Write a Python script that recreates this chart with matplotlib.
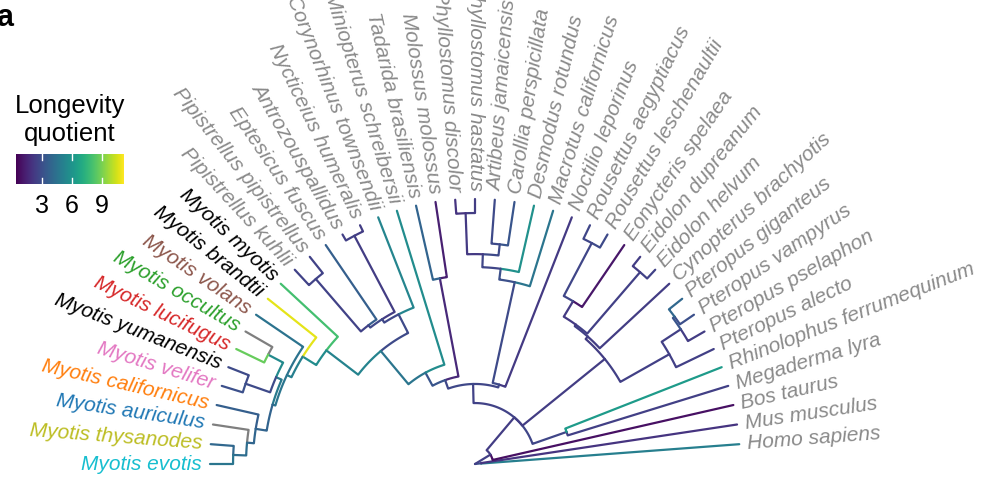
import numpy as np
import matplotlib
matplotlib.use("Agg")
import matplotlib.pyplot as plt
from matplotlib import colors as mcolors

# ---------------- data ----------------
tip_labels = [
    "Homo sapiens", "Mus musculus", "Bos taurus", "Megaderma lyra",
    "Rhinolophus ferrumequinum", "Pteropus alecto", "Pteropus pselaphon",
    "Pteropus vampyrus", "Pteropus giganteus", "Cynopterus brachyotis",
    "Eidolon helvum", "Eidolon dupreanum", "Eonycteris spelaea",
    "Rousettus leschenaultii", "Rousettus aegyptiacus", "Noctilio leporinus",
    "Macrotus californicus", "Desmodus rotundus", "Carollia perspicillata",
    "Artibeus jamaicensis", "Phyllostomus hastatus", "Phyllostomus discolor",
    "Molossus molossus", "Tadarida brasiliensis", "Miniopterus schreibersii",
    "Corynorhinus townsendii", "Nycticeius humeralis", "Antrozouspallidus",
    "Eptesicus fuscus", "Pipistrellus pipistrellus", "Pipistrellus kuhlii",
    "Myotis myotis", "Myotis brandtii", "Myotis volans", "Myotis occultus",
    "Myotis lucifugus", "Myotis yumanensis", "Myotis velifer",
    "Myotis californicus", "Myotis auriculus", "Myotis thysanodes",
    "Myotis evotis",
]
# longevity quotient of each tip (None = not available)
tip_lq = [
    5.0, 2.0, 0.8, 2.4, 6.3, 2.4, 2.3, 3.0, 4.0, 2.3,
    2.5, 2.3, 1.0, 2.8, 2.6, 2.2, 4.6, 5.8, 3.2, 2.8,
    2.3, 2.0, 1.3, 3.8, 5.6, 5.3, 2.3, 2.4, 3.6, 2.5,
    2.5, 8.0, 10.8, 4.5, None, 8.7, 2.8, 3.0, 3.6, None,
    4.0, 4.6,
]
# label colours of highlighted species (others grey)
label_colors = {
    "Myotis myotis": "#000000", "Myotis brandtii": "#000000",
    "Myotis volans": "#8c564b", "Myotis occultus": "#2ca02c",
    "Myotis lucifugus": "#d62728", "Myotis yumanensis": "#000000",
    "Myotis velifer": "#e377c2", "Myotis californicus": "#ff7f0e",
    "Myotis auriculus": "#1f77b4", "Myotis thysanodes": "#bcbd22",
    "Myotis evotis": "#17becf",
}
# internal nodes: name, children, depth from root (% of tree height), reconstructed LQ
node_names = ["Root", "Euarch", "Laurasia", "Chiroptera", "MegRhino", "Q", "R",
              "PVG", "VG", "P1", "P2", "EID", "P3", "ROU", "Yango", "NOC",
              "PHY1", "PHY2", "PHY3", "PHYL", "AC", "VGRP", "MOL", "VM", "VES",
              "O2", "O1", "AN", "PE", "PIP", "MYO", "B", "C", "F", "D", "OL",
              "YV", "E", "AUR", "ET"]
node_children = [
    ["Euarch", "Laurasia"],
    ["Homo sapiens", "Mus musculus"],
    ["Bos taurus", "Chiroptera"],
    ["MegRhino", "Q", "Yango"],
    ["Megaderma lyra", "Rhinolophus ferrumequinum"],
    ["R", "P1"],
    ["Pteropus alecto", "PVG"],
    ["Pteropus pselaphon", "VG"],
    ["Pteropus vampyrus", "Pteropus giganteus"],
    ["Cynopterus brachyotis", "P2"],
    ["EID", "P3"],
    ["Eidolon helvum", "Eidolon dupreanum"],
    ["Eonycteris spelaea", "ROU"],
    ["Rousettus leschenaultii", "Rousettus aegyptiacus"],
    ["NOC", "VGRP"],
    ["Noctilio leporinus", "PHY1"],
    ["Macrotus californicus", "PHY2"],
    ["Desmodus rotundus", "PHY3"],
    ["AC", "PHYL"],
    ["Phyllostomus hastatus", "Phyllostomus discolor"],
    ["Carollia perspicillata", "Artibeus jamaicensis"],
    ["MOL", "VM"],
    ["Molossus molossus", "Tadarida brasiliensis"],
    ["Miniopterus schreibersii", "VES"],
    ["O2", "MYO"],
    ["Corynorhinus townsendii", "O1"],
    ["AN", "PE"],
    ["Nycticeius humeralis", "Antrozouspallidus"],
    ["Eptesicus fuscus", "PIP"],
    ["Pipistrellus pipistrellus", "Pipistrellus kuhlii"],
    ["Myotis myotis", "B"],
    ["Myotis brandtii", "C"],
    ["Myotis volans", "F"],
    ["D", "E"],
    ["OL", "YV"],
    ["Myotis occultus", "Myotis lucifugus"],
    ["Myotis yumanensis", "Myotis velifer"],
    ["Myotis californicus", "AUR"],
    ["Myotis auriculus", "ET"],
    ["Myotis thysanodes", "Myotis evotis"],
]
node_depth = [0.0, 2.3, 6.8, 23.0, 36.6, 63.0, 84.2, 92.8, 93.6, 64.2, 64.9,
              95.5, 71.7, 94.3, 30.2, 31.3, 70.2, 74.3, 79.2, 94.7, 83.4,
              33.6, 71.3, 39.2, 55.5, 63.4, 64.9, 97.4, 66.0, 92.1, 70.6,
              76.6, 78.5, 79.6, 81.9, 88.3, 91.7, 83.8, 86.4, 91.3]
node_lq = [None, 3.0, 2.4, 2.3, 2.6, 2.3, 2.4, 2.4, 3.2, 2.3, 2.4, 2.4, 2.2,
           2.6, 2.5, 2.6, 2.8, 3.0, 2.6, 2.2, 2.8, 2.7, 1.6, 3.2, 4.6, 2.8,
           2.7, 2.3, 2.7, 2.5, 5.2, 5.6, 5.0, 4.6, 4.8, 5.5, 2.8, 3.8, 3.9,
           4.2]
lq_limits = (0.34, 11.25)
legend_ticks = [3, 6, 9]

# ---------------- figure setup ----------------
W, H = 986, 482
fig = plt.figure(figsize=(W / 100, H / 100), dpi=100)
ax = fig.add_axes([0, 0, 1, 1])
R_PX = 265.0
ROOT_X, ROOT_Y = 475.0, 464.0
ax.set_xlim(-ROOT_X / R_PX, (W - ROOT_X) / R_PX)
ax.set_ylim((ROOT_Y - H) / R_PX, ROOT_Y / R_PX)
ax.set_aspect("equal")
ax.axis("off")

cmap = plt.get_cmap("viridis")
norm = mcolors.Normalize(*lq_limits)
NA_COLOR = "#7f7f7f"

# ---------------- tree geometry ----------------
N = len(tip_labels)
angle = {}
depth = {}
value = {}
parent = {}
for i, t in enumerate(tip_labels):
    angle[t] = np.pi * (i + 1) / N
    depth[t] = 1.0
    value[t] = tip_lq[i]
children = dict(zip(node_names, node_children))
for n, d, v in zip(node_names, node_depth, node_lq):
    depth[n] = d / 100.0
    value[n] = v
    for c in children[n]:
        parent[c] = n


def get_angle(n):
    if n not in angle:
        angle[n] = np.mean([get_angle(c) for c in children[n]])
    return angle[n]


get_angle("Root")

for n, p in parent.items():
    a0, a1 = angle[p], angle[n]
    rp, rn = depth[p], depth[n]
    th = np.linspace(a0, a1, 60)
    xs = list(rp * np.cos(th)) + [rn * np.cos(a1)]
    ys = list(rp * np.sin(th)) + [rn * np.sin(a1)]
    col = NA_COLOR if value[n] is None else cmap(norm(value[n]))
    ax.plot(xs, ys, color=col, lw=1.6, solid_capstyle="round",
            solid_joinstyle="round", zorder=2)

# ---------------- tip labels ----------------
off = 1.0 + 8.0 / R_PX
for t in tip_labels:
    a = angle[t]
    deg = np.degrees(a)
    col = label_colors.get(t, "#8a8a8a")
    if deg >= 90 - 1e-6:
        rot, ha = deg - 180, "right"
    else:
        rot, ha = deg, "left"
    ax.text(off * np.cos(a), off * np.sin(a), t, rotation=rot,
            rotation_mode="anchor", ha=ha, va="center", fontsize=15,
            style="italic", color=col, family="Liberation Sans")

# ---------------- colour legend ----------------
fig.text(70 / W, 1 - 113 / H, "Longevity", ha="center", va="baseline",
         fontsize=18.5, family="Liberation Sans")
fig.text(70 / W, 1 - 141 / H, "quotient", ha="center", va="baseline",
         fontsize=18.5, family="Liberation Sans")
cax = fig.add_axes([16 / W, 1 - 184 / H, 108 / W, 30 / H])
grad = np.linspace(lq_limits[0], lq_limits[1], 300)[None, :]
cax.imshow(grad, aspect="auto", cmap=cmap, norm=norm,
           extent=[lq_limits[0], lq_limits[1], 0, 1])
cax.set_xlim(*lq_limits)
cax.set_ylim(0, 1)
cax.axis("off")
for v in legend_ticks:
    cax.plot([v, v], [0, 0.2], color="white", lw=1.0)
    cax.plot([v, v], [0.8, 1.0], color="white", lw=1.0)
    cax.text(v, -0.96, str(v), ha="center", va="baseline", fontsize=18,
             family="Liberation Sans", clip_on=False)

fig.text(-4 / W, 1 - 26 / H, "a", fontsize=22, fontweight="bold",
         family="Liberation Sans", va="baseline", ha="left")

fig.savefig("out.png", dpi=100)
